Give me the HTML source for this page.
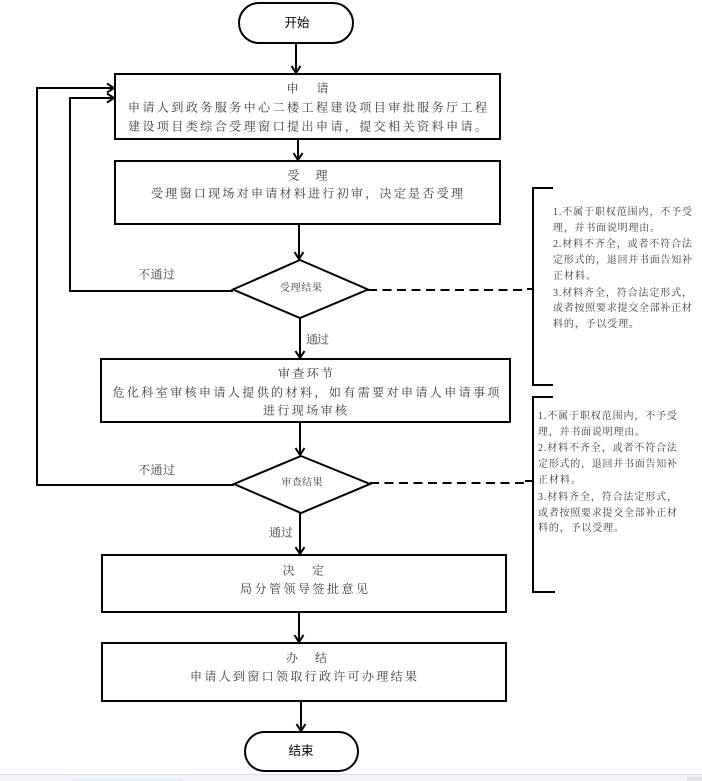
<!DOCTYPE html>
<html><head><meta charset="utf-8"><style>
html,body{margin:0;padding:0;background:#fff;}
svg{display:block;}
.m{font-family:"Liberation Serif","Noto Serif CJK SC",serif;font-size:12px;fill:#3a3a3a;}
.s{font-family:"Liberation Serif","Noto Serif CJK SC",serif;font-size:10px;fill:#3a3a3a;}
.o{font-family:"Liberation Sans","Noto Sans CJK SC",sans-serif;font-size:12.5px;fill:#000;}
.l{font-family:"Liberation Serif","Noto Serif CJK SC",serif;font-size:12px;fill:#444;}
</style></head><body>
<svg width="702" height="781" viewBox="0 0 702 781" xmlns="http://www.w3.org/2000/svg">
<rect x="0" y="0" width="702" height="781" fill="#fff"/>
<g fill="none" stroke="#000" stroke-width="2">
  <rect x="239" y="3" width="114" height="40" rx="20"/>
  <line x1="296" y1="43" x2="296" y2="72"/>
  <polyline points="291.5,66 296,73 300.5,66"/>
  <rect x="115" y="74" width="385" height="65"/>
  <line x1="298" y1="140" x2="298" y2="159"/>
  <polyline points="293.5,153 298,160 302.5,153"/>
  <rect x="115" y="161" width="385" height="63"/>
  <line x1="299" y1="225" x2="299" y2="258"/>
  <polyline points="294.5,252 299,259 303.5,252"/>
  <polygon points="300,260 368,289.5 300,318 233,289.5"/>
  <line x1="300" y1="318" x2="300" y2="357"/>
  <polyline points="295.5,351 300,358 304.5,351"/>
  <rect x="101" y="359" width="409" height="63"/>
  <line x1="300" y1="422" x2="300" y2="454"/>
  <polyline points="295.5,448 300,455 304.5,448"/>
  <polygon points="301,456 370,484 301,513 234,484"/>
  <line x1="300" y1="513" x2="300" y2="553"/>
  <polyline points="295.5,547 300,554 304.5,547"/>
  <rect x="102" y="555" width="404" height="57"/>
  <line x1="299" y1="612" x2="299" y2="641"/>
  <polyline points="294.5,635 299,642 303.5,635"/>
  <rect x="102" y="643" width="404" height="58"/>
  <line x1="301" y1="701" x2="301" y2="730"/>
  <polyline points="296.5,724 301,731 305.5,724"/>
  <rect x="245" y="732" width="113" height="39" rx="19.5"/>
  <polyline points="233,291 70,291 70,98 113,98"/>
  <polyline points="107,93.5 114,98 107,102.5"/>
  <polyline points="234,485 37,485 37,88 113,88"/>
  <polyline points="107,83.5 114,88 107,92.5"/>
  <line x1="368" y1="290" x2="527" y2="290" stroke-dasharray="9 5.5"/>
  <polyline points="553,188 533,188 533,385 553,385"/>
  <line x1="527" y1="289" x2="533" y2="289"/>
  <line x1="370" y1="483" x2="525" y2="483" stroke-dasharray="9 5.5"/>
  <polyline points="553,397 533,397 533,592 555,592"/>
  <line x1="525" y1="481" x2="533" y2="481"/>
</g>
<text class="o" x="297" y="27" text-anchor="middle">开始</text>
<text class="o" x="301" y="755" text-anchor="middle">结束</text>

<text class="m" x="292.5" y="92.6" text-anchor="middle">申</text>
<text class="m" x="322.5" y="92.6" text-anchor="middle">请</text>
<text class="m" x="128" y="111.6" textLength="359" lengthAdjust="spacing">申请人到政务服务中心二楼工程建设项目审批服务厅工程</text>
<text class="m" x="128" y="130.6" textLength="359" lengthAdjust="spacing">建设项目类综合受理窗口提出申请，提交相关资料申请。</text>

<text class="m" x="293.5" y="179.6" text-anchor="middle">受</text>
<text class="m" x="321.5" y="179.6" text-anchor="middle">理</text>
<text class="m" x="151" y="197.3" textLength="312" lengthAdjust="spacing">受理窗口现场对申请材料进行初审，决定是否受理</text>

<text class="m" x="278" y="377.6" textLength="55" lengthAdjust="spacing">审查环节</text>
<text class="m" x="112.5" y="396.6" textLength="387" lengthAdjust="spacing">危化科室审核申请人提供的材料，如有需要对申请人申请事项</text>
<text class="m" x="263" y="414.6" textLength="84" lengthAdjust="spacing">进行现场审核</text>

<text class="m" x="288.5" y="574.6" text-anchor="middle">决</text>
<text class="m" x="318" y="574.6" text-anchor="middle">定</text>
<text class="m" x="240" y="592.9" textLength="128" lengthAdjust="spacing">局分管领导签批意见</text>

<text class="m" x="292" y="662" text-anchor="middle">办</text>
<text class="m" x="321" y="662" text-anchor="middle">结</text>
<text class="m" x="190" y="680.6" textLength="227" lengthAdjust="spacing">申请人到窗口领取行政许可办理结果</text>

<text class="s" x="280" y="290.8" textLength="42" lengthAdjust="spacing">受理结果</text>
<text class="s" x="281.5" y="485.5" textLength="41" lengthAdjust="spacing">审查结果</text>

<text class="l" x="138" y="278.6" textLength="37" lengthAdjust="spacing">不通过</text>
<text class="l" x="138" y="474" textLength="37" lengthAdjust="spacing">不通过</text>
<text class="l" x="306" y="343.6" textLength="23" lengthAdjust="spacing">通过</text>
<text class="l" x="269" y="536.6" textLength="24" lengthAdjust="spacing">通过</text>

<g class="s">
<text x="553" y="214.8" textLength="139" lengthAdjust="spacing">1.不属于职权范围内，不予受</text>
<text x="553" y="230.8" textLength="107" lengthAdjust="spacing">理，并书面说明理由。</text>
<text x="553" y="246.8" textLength="139" lengthAdjust="spacing">2.材料不齐全，或者不符合法</text>
<text x="553" y="262.8" textLength="139" lengthAdjust="spacing">定形式的，退回并书面告知补</text>
<text x="553" y="278.8" textLength="43" lengthAdjust="spacing">正材料。</text>
<text x="553" y="295.8" textLength="139" lengthAdjust="spacing">3.材料齐全，符合法定形式，</text>
<text x="553" y="310.8" textLength="139" lengthAdjust="spacing">或者按照要求提交全部补正材</text>
<text x="553" y="326.8" textLength="86" lengthAdjust="spacing">料的，予以受理。</text>

<text x="538" y="418.8" textLength="139" lengthAdjust="spacing">1.不属于职权范围内，不予受</text>
<text x="538" y="434.8" textLength="107" lengthAdjust="spacing">理，并书面说明理由。</text>
<text x="538" y="450.8" textLength="139" lengthAdjust="spacing">2.材料不齐全，或者不符合法</text>
<text x="538" y="466.8" textLength="139" lengthAdjust="spacing">定形式的，退回并书面告知补</text>
<text x="538" y="482.8" textLength="43" lengthAdjust="spacing">正材料。</text>
<text x="538" y="499.8" textLength="139" lengthAdjust="spacing">3.材料齐全，符合法定形式，</text>
<text x="538" y="515.8" textLength="139" lengthAdjust="spacing">或者按照要求提交全部补正材</text>
<text x="538" y="530.8" textLength="86" lengthAdjust="spacing">料的，予以受理。</text>
</g>

<rect x="0" y="774" width="702" height="7" fill="#f3f5f8"/>
<line x1="0" y1="774.5" x2="702" y2="774.5" stroke="#dde0e4" stroke-width="1"/>
<rect x="72" y="778" width="111" height="3" fill="#e6eefa"/>
<rect x="687" y="777" width="15" height="4" fill="#dfe3e8"/>
</svg>
</body></html>
